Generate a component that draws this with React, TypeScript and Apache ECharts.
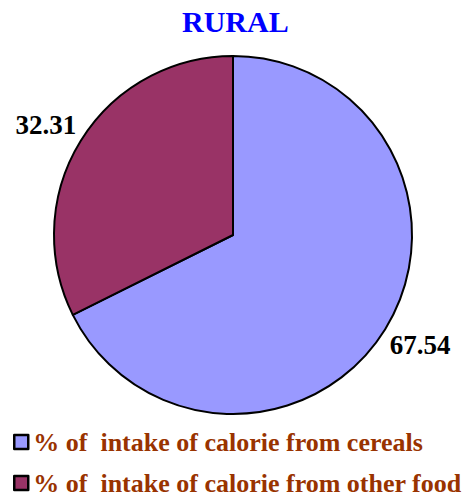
import React, { useEffect, useRef } from "react";
import * as echarts from "echarts";

const categories = [
  "% of  intake of calorie from cereals",
  "% of  intake of calorie from other food",
];
const values = [67.54, 32.31];
const colors = ["#9999FF", "#993366"];
const titleText = "RURAL";

export default function App() {
  const ref = useRef<HTMLDivElement>(null);
  useEffect(() => {
    document.body.style.margin = "0";
    const chart = echarts.init(ref.current!, null, { renderer: "svg" });
    const legendBase = {
      orient: "vertical",
      left: 8,
      itemWidth: 14,
      itemHeight: 14,
      icon: "rect",
      itemStyle: { borderColor: "#000", borderWidth: 2.5 },
      textStyle: {
        color: "#993300",
        fontFamily: "Liberation Serif, Times New Roman, serif",
        fontWeight: "bold",
        fontSize: 26,
      },
    };
    chart.setOption({
      animation: false,
      backgroundColor: "#ffffff",
      title: {
        text: titleText,
        left: 182,
        top: 6,
        padding: 0,
        textStyle: {
          color: "#0000FF",
          fontFamily: "Liberation Serif, Times New Roman, serif",
          fontWeight: "bold",
          fontSize: 30,
        },
      },
      legend: [
        { ...legendBase, top: 424, data: [categories[0]] },
        { ...legendBase, top: 465, data: [categories[1]] },
      ],
      series: [
        {
          type: "pie",
          center: [233, 235],
          radius: [0, 179],
          startAngle: 90,
          clockwise: true,
          data: categories.map((c, i) => ({
            name: c,
            value: values[i],
            itemStyle: { color: colors[i] },
          })),
          itemStyle: { borderColor: "#000", borderWidth: 2 },
          label: {
            show: true,
            position: "outside",
            formatter: (p: any) => p.value.toFixed(2),
            color: "#000",
            fontFamily: "Liberation Serif, Times New Roman, serif",
            fontWeight: "bold",
            fontSize: 27,
            distanceToLabelLine: 0,
          },
          labelLine: { show: false, length: 30, length2: -21 },
          emphasis: { disabled: true },
        },
      ],
    });
    return () => chart.dispose();
  }, []);
  return (
    <div
      ref={ref}
      style={{ position: "absolute", left: 0, top: 0, width: 462, height: 498 }}
    />
  );
}
